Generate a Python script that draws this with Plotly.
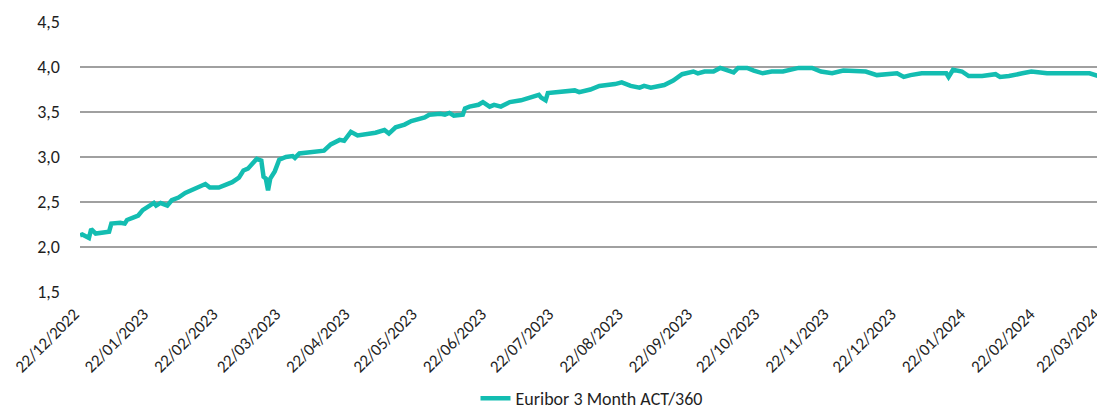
import plotly.graph_objects as go

dates = [
    "2022-12-22", "2022-12-23", "2022-12-26", "2022-12-27", "2022-12-29",
    "2023-01-02", "2023-01-04", "2023-01-05", "2023-01-09", "2023-01-11",
    "2023-01-12", "2023-01-15", "2023-01-17", "2023-01-19", "2023-01-22",
    "2023-01-24", "2023-01-25", "2023-01-27", "2023-01-28", "2023-01-30",
    "2023-02-01", "2023-02-04", "2023-02-07", "2023-02-11", "2023-02-16",
    "2023-02-18", "2023-02-22", "2023-02-25", "2023-02-28", "2023-03-03",
    "2023-03-05", "2023-03-07", "2023-03-10", "2023-03-11", "2023-03-13",
    "2023-03-14", "2023-03-15", "2023-03-16", "2023-03-17", "2023-03-19",
    "2023-03-21", "2023-03-24", "2023-03-27", "2023-03-28", "2023-03-30",
    "2023-04-04", "2023-04-07", "2023-04-10", "2023-04-13", "2023-04-17",
    "2023-04-19", "2023-04-22", "2023-04-25", "2023-04-28", "2023-05-03",
    "2023-05-07", "2023-05-09", "2023-05-12", "2023-05-16", "2023-05-19",
    "2023-05-23", "2023-05-25", "2023-05-27", "2023-06-01", "2023-06-03",
    "2023-06-05", "2023-06-07", "2023-06-11", "2023-06-12", "2023-06-14",
    "2023-06-18", "2023-06-20", "2023-06-23", "2023-06-25", "2023-06-28",
    "2023-07-02", "2023-07-07", "2023-07-11", "2023-07-15", "2023-07-16",
    "2023-07-18", "2023-07-19", "2023-07-24", "2023-07-29", "2023-07-31",
    "2023-08-02", "2023-08-07", "2023-08-11", "2023-08-15", "2023-08-18",
    "2023-08-21", "2023-08-25", "2023-08-29", "2023-08-31", "2023-09-03",
    "2023-09-07", "2023-09-09", "2023-09-13", "2023-09-17", "2023-09-22",
    "2023-09-24", "2023-09-27", "2023-10-01", "2023-10-04", "2023-10-07",
    "2023-10-10", "2023-10-12", "2023-10-16", "2023-10-19", "2023-10-23",
    "2023-10-27", "2023-11-01", "2023-11-08", "2023-11-14", "2023-11-18",
    "2023-11-23", "2023-11-28", "2023-12-04", "2023-12-08", "2023-12-13",
    "2023-12-18", "2023-12-22", "2023-12-25", "2023-12-28", "2024-01-02",
    "2024-01-13", "2024-01-14", "2024-01-16", "2024-01-20", "2024-01-23",
    "2024-01-29", "2024-02-04", "2024-02-06", "2024-02-10", "2024-02-16",
    "2024-02-20", "2024-02-24", "2024-02-27", "2024-03-17", "2024-03-22",
]

euribor_3m = [
    2.13, 2.14, 2.10, 2.20, 2.15,
    2.16, 2.17, 2.26, 2.27, 2.26,
    2.30, 2.33, 2.35, 2.41, 2.45,
    2.49, 2.46, 2.49, 2.48, 2.46,
    2.52, 2.55, 2.60, 2.65, 2.70,
    2.66, 2.66, 2.69, 2.72, 2.77,
    2.85, 2.87, 2.94, 2.98, 2.96,
    2.78, 2.76, 2.63, 2.76, 2.84,
    2.97, 3.00, 3.01, 2.99, 3.04,
    3.05, 3.06, 3.07, 3.14, 3.19,
    3.18, 3.28, 3.24, 3.25, 3.27,
    3.30, 3.26, 3.33, 3.36, 3.40,
    3.42, 3.44, 3.47, 3.48, 3.47,
    3.49, 3.46, 3.47, 3.54, 3.56,
    3.58, 3.61, 3.56, 3.58, 3.56,
    3.61, 3.63, 3.66, 3.69, 3.66,
    3.63, 3.71, 3.72, 3.73, 3.74,
    3.72, 3.75, 3.79, 3.80, 3.81,
    3.83, 3.79, 3.77, 3.79, 3.77,
    3.79, 3.80, 3.85, 3.92, 3.95,
    3.93, 3.95, 3.95, 3.99, 3.97,
    3.94, 3.99, 3.99, 3.96, 3.93,
    3.95, 3.95, 3.99, 3.99, 3.95,
    3.93, 3.96, 3.95, 3.95, 3.91,
    3.92, 3.93, 3.89, 3.91, 3.93,
    3.93, 3.89, 3.97, 3.95, 3.90,
    3.90, 3.92, 3.89, 3.90, 3.93,
    3.95, 3.94, 3.93, 3.93, 3.89,
]

x_tick_dates = [
    "2022-12-22", "2023-01-22", "2023-02-22", "2023-03-22", "2023-04-22",
    "2023-05-22", "2023-06-22", "2023-07-22", "2023-08-22", "2023-09-22",
    "2023-10-22", "2023-11-22", "2023-12-22", "2024-01-22", "2024-02-22",
    "2024-03-22",
]
x_tick_labels = [
    "22/12/2022", "22/01/2023", "22/02/2023", "22/03/2023", "22/04/2023",
    "22/05/2023", "22/06/2023", "22/07/2023", "22/08/2023", "22/09/2023",
    "22/10/2023", "22/11/2023", "22/12/2023", "22/01/2024", "22/02/2024",
    "22/03/2024",
]
y_tick_vals = [1.5, 2.0, 2.5, 3.0, 3.5, 4.0, 4.5]
y_tick_labels = ["1,5", "2,0", "2,5", "3,0", "3,5", "4,0", "4,5"]

series_name = "Euribor 3 Month ACT/360"
line_color = "#13BDB1"

fig = go.Figure()
fig.add_trace(go.Scatter(
    x=dates, y=euribor_3m, mode="lines", name=series_name,
    line=dict(color=line_color, width=4.5),
))

# page body has an 8px default margin, so the figure is 8px smaller than the window
fig.update_layout(
    width=1097, height=402,
    margin=dict(l=72, r=2, t=14, b=118, autoexpand=False),
    paper_bgcolor="white", plot_bgcolor="white",
    font=dict(family="Carlito, Lato, 'Open Sans', sans-serif", size=18, color="#1f1f1f"),
    showlegend=True,
    legend=dict(orientation="h", x=0.5, xanchor="center", y=-0.395, yanchor="middle",
                font=dict(size=18, color="#1f1f1f")),
)
fig.update_xaxes(
    type="date", range=["2022-12-22", "2024-03-23"],
    tickvals=x_tick_dates, ticktext=x_tick_labels, tickangle=-45,
    showgrid=False, showline=False, zeroline=False, ticks="",
    tickfont=dict(size=17), automargin=False,
    ticklabelstandoff=8, ticklabelshift=-6, ticklabeloverflow="allow",
)
fig.update_yaxes(
    range=[1.5, 4.5], tickvals=y_tick_vals, ticktext=y_tick_labels,
    showgrid=True, gridcolor="#A0A0A0", gridwidth=1.5,
    zeroline=False, showline=False, ticks="", ticklabelstandoff=19,
    tickfont=dict(size=18), automargin=False,
)

fig.write_html("out.html")
